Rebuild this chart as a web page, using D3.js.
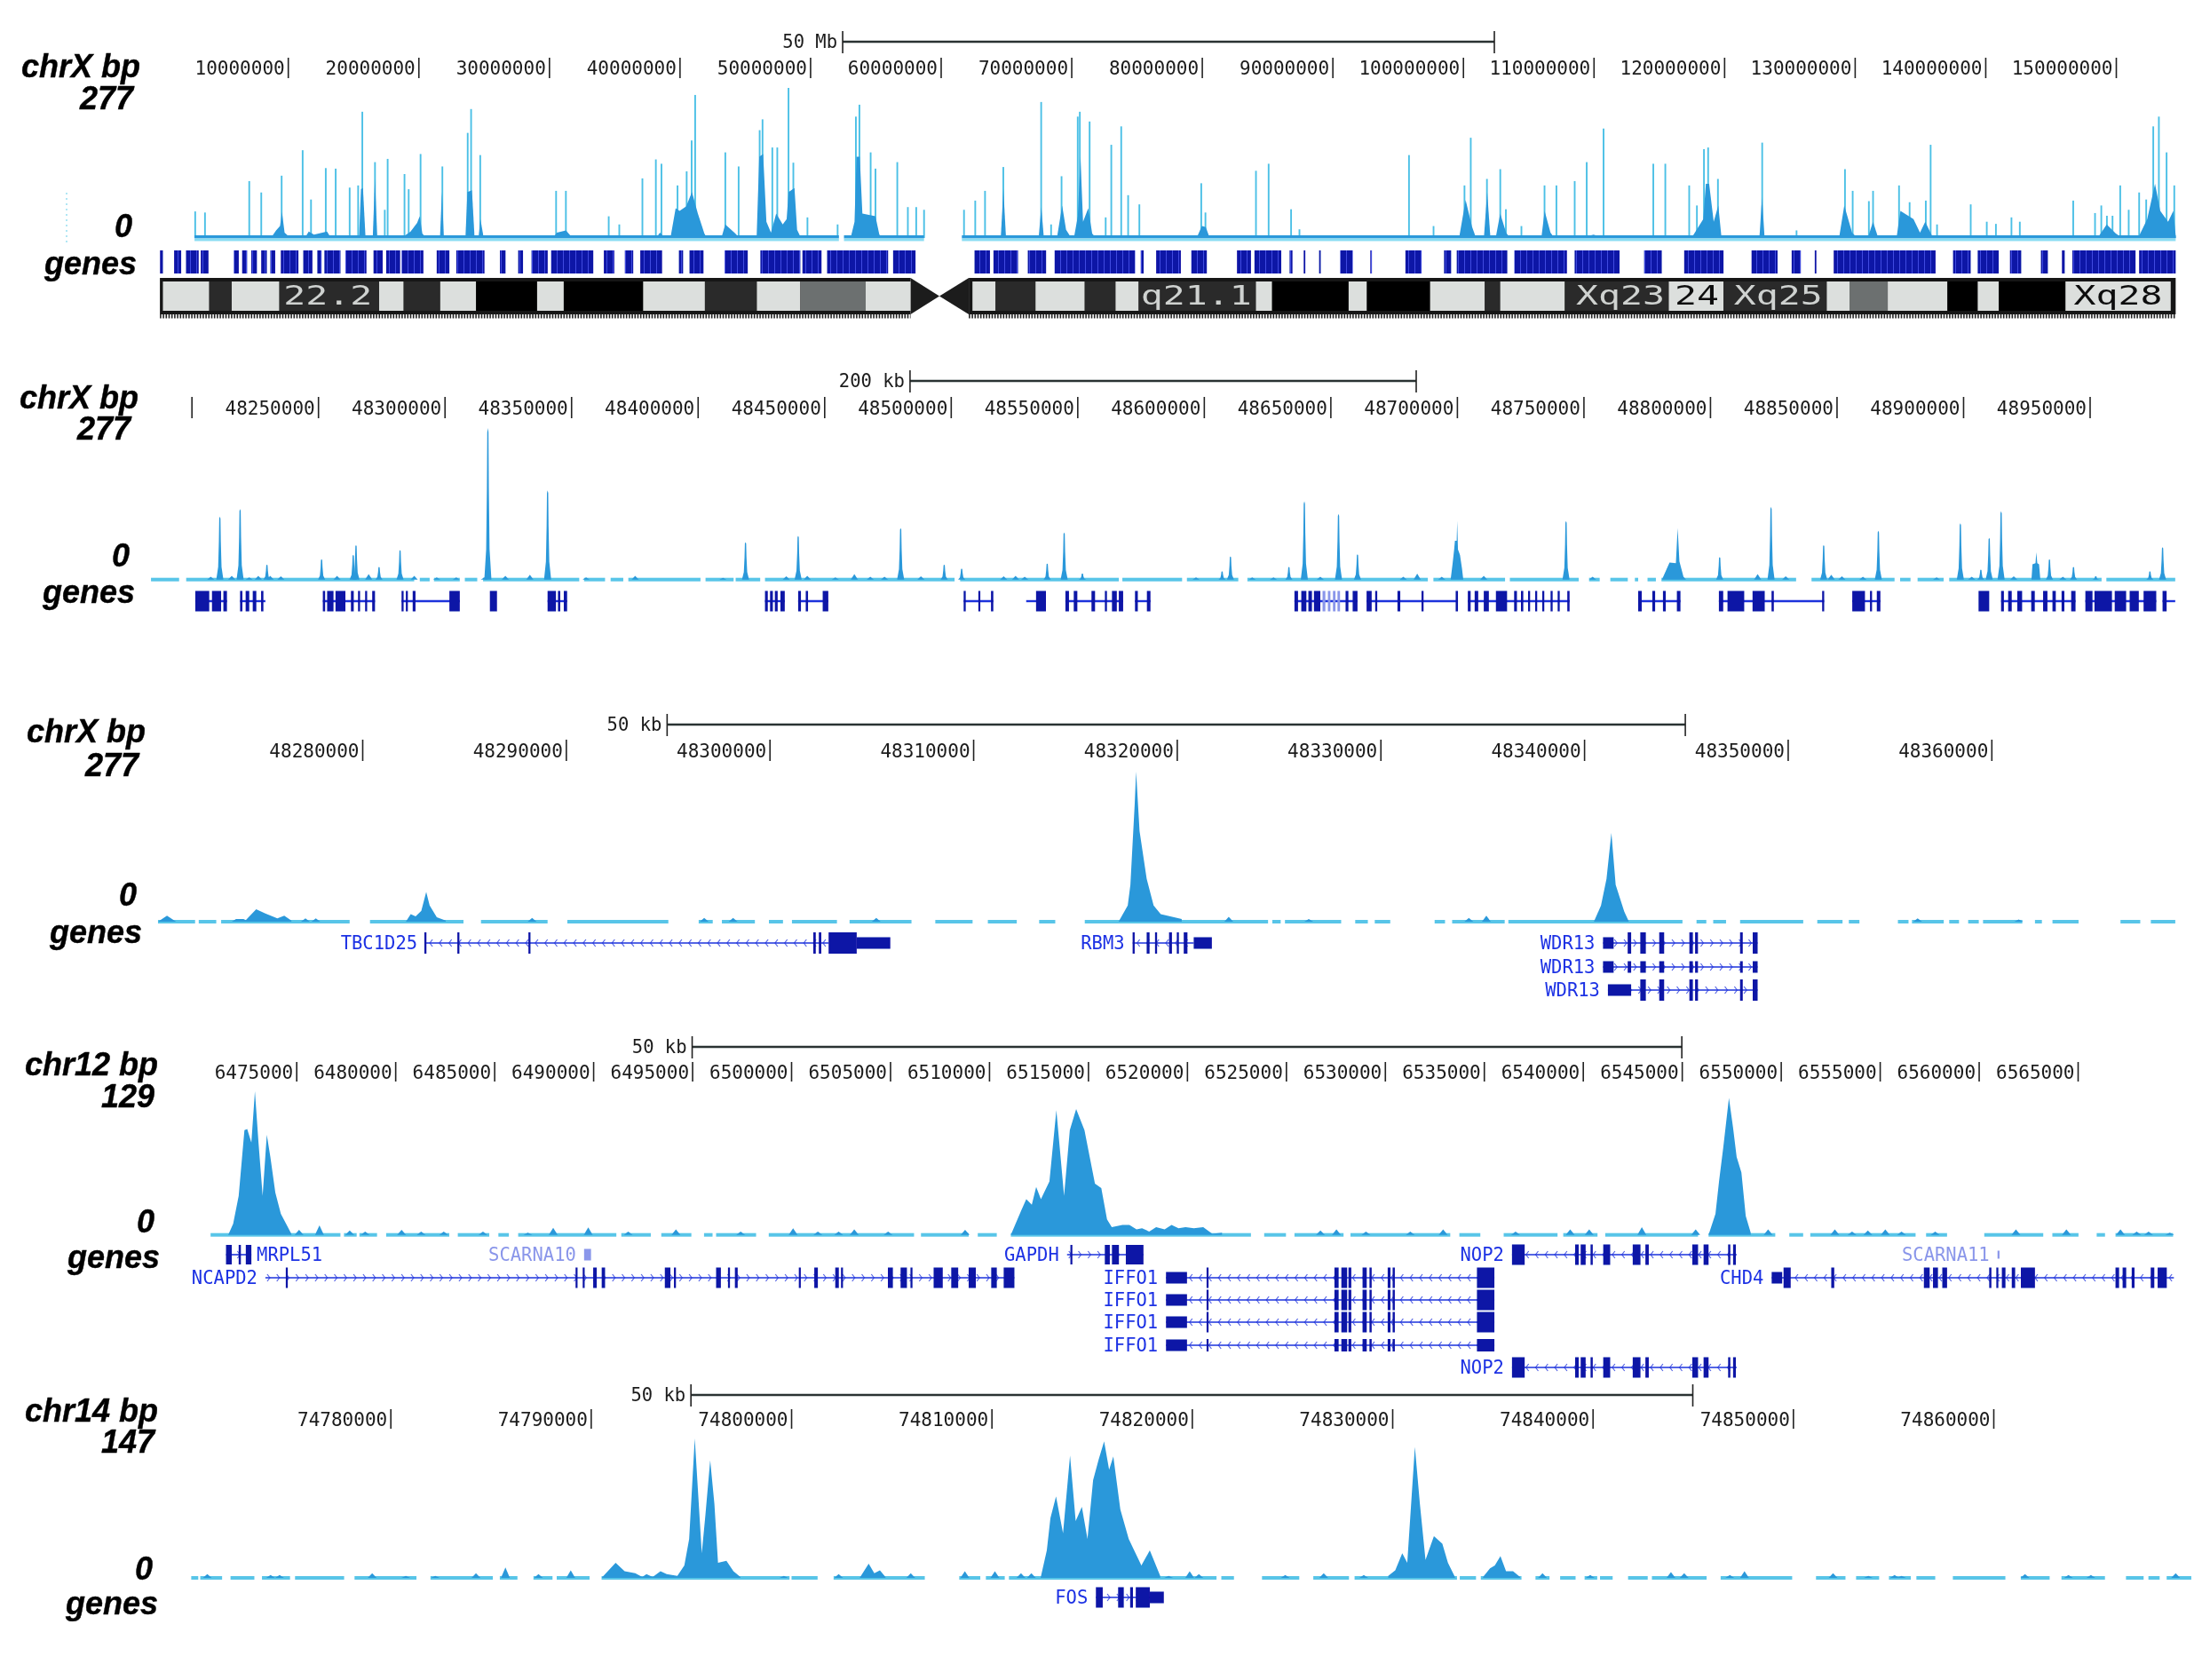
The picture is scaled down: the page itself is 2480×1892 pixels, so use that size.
<!DOCTYPE html>
<html><head><meta charset="utf-8">
<script src="https://cdn.jsdelivr.net/npm/d3@7"></script>
<style>html,body{margin:0;background:#fff}svg{display:block}</style></head><body>
<script>
// ---------- panel 1 : chrX whole chromosome, positions in Mb ----------
const p1Ticks=[10,20,30,40,50,60,70,80,90,100,110,120,130,140,150];
const p1Spikes=[[2.9,49],[3.65,47],[7.04,105],[7.96,84],[9.52,115],[11.13,162],[11.77,71],[12.9,129],[13.66,128],[14.73,93],[15.38,97],[15.7,233],[16.67,140],[17.42,52],[17.64,146],[18.93,118],[19.25,90],[20.16,155],[21.83,132],[23.77,194],[24.03,238],[24.73,153],[30.54,87],[31.29,87],[34.57,40],[35.38,25],[37.15,110],[38.18,145],[38.61,137],[39.84,97],[40.54,123],[40.92,180],[41.19,264],[43.5,158],[44.52,132],[46.13,199],[46.35,219],[47.1,167],[47.48,167],[48.34,277],[48.71,139],[49.79,38],[52.1,25],[53.5,224],[53.77,246],[54.63,158],[55,128],[56.67,140],[57.48,57],[58.12,57],[58.72,52],[61.78,52],[62.64,69],[63.39,87],[64.79,131],[67.69,251],[68.45,25],[69.25,114],[70.49,224],[70.65,233],[71.4,215],[72.63,38],[73.06,172],[73.82,206],[74.35,79],[75.21,62],[79.95,101],[80.27,47],[84.14,124],[85.11,137],[86.83,53],[87.47,16],[95.86,153],[97.74,22],[100.11,97],[100.59,185],[101.83,109],[102.85,127],[103.28,53],[104.47,22],[106.24,97],[107.15,97],[108.55,105],[109.47,140],[110.76,202],[114.57,137],[115.49,137],[117.32,97],[117.91,60],[118.45,164],[118.77,167],[119.52,109],[122.91,176],[125.54,14],[129.25,127],[129.84,87],[131.08,68],[131.4,87],[133.39,97],[134.2,66],[135.44,69],[135.81,172],[136.3,25],[138.88,62],[140.11,30],[140.81,26],[142,38],[142.64,30],[146.73,69],[148.4,46],[148.88,60],[149.31,41],[149.74,41],[150.33,97],[150.98,52],[151.78,84],[152.32,71],[152.86,206],[153.29,224],[153.88,158],[154.47,97]];
const p1Mass=[[[8.7,0],[9.1,14],[9.4,22],[9.55,48],[9.75,10],[10.2,0]],[[11.3,0],[11.6,12],[12,6],[13,12],[13.3,0]],[[15.45,0],[15.6,90],[15.75,92],[15.95,0]],[[16.5,0],[16.67,110],[16.85,0]],[[18.7,0],[19.4,12],[19.9,28],[20.1,40],[20.3,8],[20.6,0]],[[21.65,0],[21.8,85],[21.95,0]],[[23.6,0],[23.75,85],[24.1,88],[24.3,0]],[[24.6,0],[24.75,35],[25,0]],[[30.3,0],[30.6,10],[31.3,14],[31.8,0]],[[38.2,0],[38.5,10],[38.9,0]],[[39.3,0],[39.7,55],[40,50],[40.5,58],[40.95,85],[41.4,45],[41.9,8],[42.1,0]],[[43.2,0],[43.5,25],[44.2,10],[44.6,0]],[[45.9,0],[46.1,150],[46.4,155],[46.65,30],[47,10],[47.4,45],[47.9,25],[48.2,35],[48.35,85],[48.8,92],[49,15],[49.3,0]],[[53.1,0],[53.4,30],[53.55,150],[53.8,150],[54,45],[55,40],[55.3,6],[55.6,0]],[[64.6,0],[64.8,90],[65,0]],[[67.5,0],[67.7,57],[67.9,0]],[[68.9,0],[69.3,60],[69.6,15],[70,0]],[[70.2,0],[70.5,40],[70.7,150],[70.9,30],[71.3,55],[71.6,8],[71.9,0]],[[79.6,0],[80,22],[80.3,20],[80.6,0]],[[99.7,0],[100.2,70],[100.7,20],[101,0]],[[101.6,0],[101.85,85],[102.1,0]],[[102.5,0],[102.85,45],[103.3,10],[103.6,0]],[[106,0],[106.25,50],[106.7,10],[107,0]],[[109,0],[110,6],[110.8,0]],[[117.5,0],[118.4,35],[118.6,100],[118.85,100],[119.2,30],[119.55,60],[119.8,0]],[[122.7,0],[122.9,75],[123.1,0]],[[128.8,0],[129.2,60],[129.8,10],[130.2,0]],[[131,0],[131.4,30],[131.8,0]],[[133.2,0],[133.5,50],[134.5,35],[135,10],[135.4,30],[136,0]],[[148.6,0],[149.3,25],[150,8],[150.5,0]],[[151.7,0],[152.4,35],[153,100],[153.4,50],[154,30],[154.4,50],[154.6,0]]];
const p1Coverage=[[2.85,52.2],[52.59,58.72],[61.62,154.58]];
const p1Genes=[[.21,.43],[1.29,1.83],[2.2,3.17],[3.33,3.92],[5.86,6.24],[6.5,6.88],[7.2,7.63],[7.96,8.39],[8.66,9.03],[9.46,10.81],[11.18,11.88],[12.26,12.58],[12.8,14.03],[14.41,16.02],[16.56,17.26],[17.53,18.6],[18.71,20.38],[21.4,22.37],[22.9,25.06],[26.24,26.67],[27.64,28.01],[28.66,29.9],[30.16,33.39],[34.2,35],[35.81,36.45],[36.99,38.66],[39.95,40.27],[40.76,41.83],[43.45,45.22],[46.19,49.25],[49.41,50.87],[51.3,55.97],[56.35,58.07],[62.59,63.77],[64.04,65.92],[66.67,68.07],[68.72,74.89],[75.32,75.54],[76.5,78.39],[79.19,80.38],[82.69,83.76],[84.03,86.08],[86.72,86.94],[87.8,87.9],[88.98,89.09],[90.59,91.56],[92.9,93.01],[95.59,96.83],[98.55,99.09],[99.52,103.39],[103.93,107.96],[108.55,111.99],[113.87,115.22],[116.94,119.95],[122.1,124.09],[125.17,125.87],[126.94,127.05],[128.39,136.19],[137.53,138.88],[139.42,141.03],[141.89,142.75],[144.26,144.79],[145.87,146.08],[146.67,151.51],[151.78,154.58]];
const ideoBands=[[.43,3.98,"light"],[3.98,5.7,"dark"],[5.7,9.35,"light"],[9.35,16.99,"dark"],[16.99,18.87,"light"],[18.87,21.67,"dark"],[21.67,24.41,"light"],[24.41,29.09,"black"],[29.09,31.13,"light"],[31.13,37.21,"black"],[37.21,41.94,"light"],[41.94,45.92,"dark"],[45.92,49.25,"light"],[49.25,54.25,"gray"],[54.25,57.69,"light"],[62.43,64.2,"light"],[64.2,67.26,"dark"],[67.26,71.03,"light"],[71.03,73.39,"dark"],[73.39,75.16,"light"],[75.16,84.14,"dark"],[84.14,85.38,"light"],[85.38,91.24,"black"],[91.24,92.64,"light"],[92.64,97.48,"black"],[97.48,101.67,"light"],[101.67,102.85,"dark"],[102.85,107.8,"light"],[107.8,115.76,"dark"],[115.76,119.95,"light"],[119.95,127.86,"dark"],[127.86,129.63,"light"],[129.63,132.53,"gray"],[132.53,137.1,"light"],[137.1,139.42,"black"],[139.42,141.03,"light"],[141.03,146.14,"black"],[146.14,154.2,"light"]];
const ideoLabels=[[13.06,"22.2","light"],[79.57,"q21.1","light"],[112.05,"Xq23","light"],[117.91,"24","dark"],[124.15,"Xq25","light"],[150.17,"Xq28","dark"]];
const ideoArms=[[.2,57.69],[62.15,154.58]];
const ideoCentromere=[57.69,59.9,62.15];

// ---------- panel 2 : chrX, positions in kb above 48,000,000 ----------
const p2Ticks=[200,250,300,350,400,450,500,550,600,650,700,750,800,850,900,950];
const p2Spikes=[[211.2,115],[219.2,129],[229.8,27],[251.4,37],[263.9,45],[265,63],[274.1,23],[282.4,54],[317.1,277],[340.7,163],[418.9,68],[439.7,80],[480.2,94],[497.4,27],[504.3,20],[538.1,29],[544.8,86],[552,11],[607.2,15],[610.5,42],[633.6,23],[639.7,143],[653.2,120],[660.7,46],[743.1,107],[803.8,41],[824.1,133],[844.9,63],[866.5,89],[898.9,103],[907,18],[910.3,76],[915,125],[934.1,37],[943.6,23],[952.4,6],[973.8,15],[978.8,59]];
const p2Shapes=[[[697.5,0],[698.3,30],[698.9,55],[699.2,71],[699.9,71],[700.1,107],[700.4,55],[701.2,45],[702,20],[702.5,0]],[[781,0],[784,31],[786.5,30],[787.2,94],[787.9,33],[789.5,5],[790.5,0]],[[927,0],[927.4,28],[928.6,30],[928.9,50],[929.3,30],[930,28],[930.5,0]]];
const p2Bumps=[[207.6,5],[215.9,7],[222.8,4],[226.4,7],[231.1,7],[235.3,6],[257.5,7],[270,10],[288,7],[296.9,4],[304.6,4],[315.7,4],[324,7],[333.7,9],[355.9,4],[375.3,7],[410,3],[435,6],[443.3,7],[454.4,4],[461.9,10],[468.2,5],[473.8,5],[488.2,6],[520.9,6],[525.6,7],[529.2,5],[596.9,4],[619.1,4],[627.5,4],[646,5],[678.8,5],[684.3,11],[694,5],[710.6,7],[753.6,5],[818.8,10],[829.9,6],[847.9,9],[852.1,6],[860.4,5],[889.5,4],[903.4,5],[920,6],[939.4,5]];
const p2Coverage=[[184,195.1],[197.9,288],[290.2,294.1],[295.8,306],[308,312.9],[315.2,353.2],[355.1,363.4],[365.6,370.6],[372.6,401.1],[403.1,414.2],[415,424.7],[426.6,501.5],[503.7,566.4],[567.8,591.4],[593.3,613.6],[617.2,688.5],[690.7,719],[720.9,748.1],[752.2,756.4],[760.6,767.5],[770.3,771.6],[775.3,778.6],[780.8,834],[840.1,872.9],[875.1,879.2],[882,892.3],[894.5,954.7],[956.6,983.8]];
const p2GeneLines=[[201.5,214],[219.2,229.2],[251.9,272.5],[283,306],[340.7,348.4],[426.6,434.4],[439.7,451.6],[505.1,516.8],[529.8,537.6],[545.3,568.1],[572.8,578.9],[635.8,660.7],[664.3,700.4],[704.3,744.5],[771.6,788.3],[803.5,845.1],[856.2,867.3],[915,944.4],[948.3,976.3],[978.8,983.8]];
const p2Exons=[[201.5,207],[208.1,211.7],[212.6,214],[219.2,220.1],[221.4,222.8],[224.2,225.6],[227.5,228.4],[251.9,252.8],[253.6,256.1],[256.9,260.8],[263,264.1],[265.8,266.6],[268.6,269.4],[271.4,272.5],[283,283.8],[284.7,285.2],[287.4,288.5],[301.9,306],[317.9,320.7],[340.7,344],[344.8,345.7],[347.1,348.4],[426.6,427.7],[428.6,429.7],[430.5,431.6],[432.7,434.4],[439.7,440.8],[442.7,443.6],[449.4,451.6],[505.1,505.9],[510.9,511.5],[515.9,516.8],[533.7,537.6],[545.3,546.7],[548.6,550],[555.6,557],[560.9,561.7],[563.7,565.6],[566.4,568.1],[572.8,573.9],[577.5,578.9],[635.8,637.2],[638.5,640.5],[641.3,642.7],[643.5,646],[656,657.1],[658.8,660.7],[664.3,666.3],[667.7,668.5],[676.5,677.6],[686,686.8],[699.5,700.4],[704.3,705.4],[707,708.4],[710.6,712.6],[715.4,719.8],[722.6,723.7],[725.3,726.2],[728.1,728.9],[730.9,731.7],[733.7,734.5],[737,737.8],[739.8,740.6],[743.6,744.5],[771.6,773],[777.2,778.3],[781.4,782.5],[786.9,788.3],[803.5,805.2],[806.9,813.5],[816.8,821.6],[824.3,825.2],[844.3,845.1],[856.2,861.2],[863.2,864],[865.9,867.3],[906.1,910.3],[915,916.1],[917.8,919.2],[921.4,923.3],[926.9,928.3],[931.6,933.3],[935.3,936.6],[938.9,940],[942.7,944.4],[948.3,951.1],[951.9,958.8],[959.9,964.4],[965.8,969.4],[971.3,976.3],[978.8,980.4]];
const p2FaintExons=[[646.9,648],[649,650],[651,652],[652.8,653.8]];

// ---------- panel 3 : chrX, positions in kb above 48,280,000 ----------
const p3Ticks=[0,10,20,30,40,50,60,70,80];
const p3Shapes=[[[-10.03,0],[-9.59,11],[-9.14,0]],[[-6.41,0],[-6.2,5],[-5.83,5],[-5.72,3],[-5.21,23],[-4.76,15],[-4.17,6],[-3.83,11],[-3.48,2]],[[2.14,0],[2.38,14],[2.62,10],[2.9,20],[3.14,55],[3.31,30],[3.66,8],[4.1,2]],[[37.14,0],[37.59,30],[37.72,68],[37.93,216],[38,277],[38.17,167],[38.52,79],[38.86,30],[39.21,14],[40.24,5]],[[60.48,0],[60.83,30],[61.1,79],[61.34,164],[61.55,68],[61.97,19],[62.2,0]]];
const p3Bumps=[[-2.79,6],[-2.28,6],[8.34,7],[16.79,7],[18.21,7],[25.24,7],[42.55,9],[46.48,5],[54.34,7],[55.2,11],[76.38,6],[81.34,4]];
const p3Coverage=[[-10.03,-8.21],[-8.03,-7.17],[-6.93,-.62],[.38,4.97],[5.83,9.1],[10.07,15.03],[16.52,17.21],[17.66,19.28],[19.97,20.66],[21.1,23.31],[23.93,26.97],[28.14,29.97],[30.72,32.14],[33.24,34.03],[35.48,44.48],[44.69,45.1],[45.31,48.07],[48.76,49.38],[49.72,50.48],[52.66,53.17],[53.52,56.1],[56.28,64.83],[65.52,66],[66.34,66.97],[67.66,70.76],[71.45,72.69],[73,73.52],[75.41,75.93],[76.1,77.66],[77.93,78.41],[78.86,79.38],[79.59,81.52],[82.14,82.48],[83,84.28],[86.34,87.31],[87.83,89.03]];
const tbcExons=[[3.05,3.15],[4.67,4.77],[8.16,8.26],[22.15,22.27],[22.42,22.54],[22.9,24.28]];
const tbcUtr=[[24.28,25.93]];
const rbm3Exons=[[37.83,37.93],[38.52,38.66],[38.93,39.03],[39.62,39.76],[40,40.1],[40.34,40.52]];
const rbm3Utr=[[40.83,41.72]];
const wdrExons=[[62.14,62.31],[62.76,63.03],[63.69,63.93],[65.17,65.34],[65.45,65.59],[67.66,67.79],[68.28,68.52]];
const wdrExonsB=[[62.76,63.03],[63.69,63.93],[65.17,65.34],[65.45,65.59],[67.66,67.79],[68.28,68.52]];

// ---------- panel 4 : chr12, positions in kb above 6,475,000 ----------
const p4Ticks=[0,5,10,15,20,25,30,35,40,45,50,55,60,65,70,75,80,85,90];
const p4Shapes=[[[-3.44,0],[-3.19,10],[-2.91,35],[-2.62,94],[-2.48,95],[-2.27,83],[-2.09,129],[-1.91,83],[-1.7,35],[-1.49,90],[-1.31,70],[-1.06,38],[-.78,19],[-.25,1]],[[36.1,0],[36.63,22],[36.88,32],[37.16,27],[37.38,43],[37.62,32],[38.05,48],[38.4,112],[38.79,35],[39.08,94],[39.4,113],[39.82,94],[40.35,46],[40.67,42],[40.96,14],[41.2,7],[41.74,9],[42.09,9],[42.45,5],[42.73,6],[43.09,3],[43.44,7],[43.87,5],[44.22,9],[44.57,6],[44.93,7],[45.35,6],[45.82,7],[46.28,1],[46.77,2]],[[71.35,0],[71.7,19],[71.88,48],[72.09,78],[72.38,123],[72.59,96],[72.77,70],[73.01,56],[73.23,17],[73.48,2]]];
const p4Bumps=[[.14,4.5],[1.17,8.5],[2.7,4],[3.48,3],[5.32,4.5],[6.31,3],[7.45,3],[9.43,3],[11.7,2],[12.98,6.4],[14.75,6.7],[16.77,3],[19.18,5],[22.45,3],[25.1,6],[26.35,3],[27.4,3],[28.19,5],[29.9,3],[33.79,4.5],[51.74,4],[52.55,5],[54.04,3],[56.28,3],[57.94,5],[61.6,3],[64.36,5],[65.32,5],[67.98,7],[70.7,5],[74.36,5],[77.73,5],[78.6,3],[79.4,4],[80.28,5],[81.1,3],[82.8,3],[86.88,5],[89.43,5],[92.16,5],[92.98,3],[93.58,3],[94.65,2]];
const p4Coverage=[[-4.33,2.23],[2.41,3.05],[3.19,4.08],[4.54,7.73],[8.16,9.75],[10.21,10.74],[11.21,16.17],[16.42,17.91],[18.44,19.96],[20.6,21.03],[21.21,23.23],[23.87,31.21],[31.56,33.97],[34.43,35.39],[36.1,48.23],[48.9,50],[50.43,52.91],[53.26,58.3],[58.76,59.82],[61,63.72],[64.01,65.74],[66.13,70.82],[71.35,74.72],[75.43,76.13],[76.49,81.81],[82.34,83.4],[85.28,88.26],[88.72,90.04],[90.96,91.38],[91.91,94.82]];
const mrplExons=[[-3.55,-3.26],[-2.91,-2.8],[-2.55,-2.27]];
const scarna10Exons=[[14.54,14.89]];
const gapdhExons=[[39.11,39.2],[40.85,41.1],[41.21,41.56],[41.91,42.8]];
const nop2Exons=[[61.42,62.06],[64.61,64.79],[64.89,65.14],[65.39,65.5],[66.03,66.38],[67.52,67.91],[68.16,68.33],[70.53,70.82],[71.1,71.35],[72.34,72.45],[72.59,72.73]];
const ncapExons=[[-.53,-.43],[14.11,14.18],[14.47,14.54],[15,15.18],[15.43,15.6],[18.62,18.9],[19.08,19.18],[21.21,21.45],[21.81,21.91],[22.16,22.3],[25.39,25.46],[26.17,26.35],[27.23,27.41],[27.52,27.62],[29.89,30.14],[30.53,30.85],[31.03,31.13],[32.2,32.66],[33.09,33.44],[33.97,34.33],[35.11,35.39],[35.74,36.28]];
const iffoExons=[[45.99,46.06],[52.45,52.66],[52.8,53.09],[53.16,53.3],[53.87,54.08],[54.22,54.33],[55.14,55.28],[55.39,55.5],[59.65,60.53]];
const iffoUtr=[[43.94,45]];
const chd4Exons=[[75.14,75.5],[77.55,77.7],[82.23,82.52],[82.69,82.94],[83.16,83.4],[85.53,85.64],[85.89,85.99],[86.17,86.35],[86.67,86.84],[87.13,87.84],[91.91,92.09],[92.27,92.45],[92.73,92.87],[93.69,93.87],[94.04,94.5]];
const chd4Utr=[[74.54,75.07]];
const scarna11Exons=[[85.95,86.02]];

// ---------- panel 5 : chr14, positions in kb above 74,780,000 ----------
const p5Ticks=[0,10,20,30,40,50,60,70,80];
const p5Shapes=[[[10.54,0],[11.24,16],[11.69,7],[12.22,5],[12.57,1],[12.78,4],[13.09,1],[13.48,7],[13.79,4],[14.32,2],[14.67,13],[14.91,41],[15.19,147],[15.37,85],[15.54,26],[15.72,66],[15.96,124],[16.17,78],[16.35,16],[16.77,18],[17.12,7],[17.47,1]],[[23.42,0],[23.87,15],[24.15,5],[24.43,8],[24.71,1]],[[32.45,0],[32.76,29],[32.94,63],[33.22,86],[33.57,47],[33.92,129],[34.2,60],[34.51,75],[34.79,41],[35.07,103],[35.35,125],[35.62,144],[35.87,114],[36.08,128],[36.43,72],[36.85,41],[37.48,13],[37.9,29],[38.42,2]],[[49.8,2],[50.15,8],[50.5,26],[50.75,16],[51.13,138],[51.38,78],[51.66,19],[52.08,44],[52.5,36],[52.78,16],[53.13,1]],[[54.53,1],[54.88,10],[55.12,13],[55.4,23],[55.68,7],[56.03,7],[56.38,1]]];
const p5Bumps=[[-9.14,4],[-5.98,3],[-5.53,3],[-.91,5],[.77,2],[2.24,2],[4.27,5],[5.74,11],[7.39,4],[9,8],[19.64,2],[22.37,4],[25.97,5],[28.67,7],[30.17,7],[31.47,5],[31.99,5],[38.84,2],[39.89,7],[40.35,4],[44.66,3],[46.58,5],[48.58,3],[57.5,5],[59.88,3],[63.91,6],[64.57,5],[66.85,3],[67.58,7],[72,5],[73.76,2],[75.07,3],[75.42,2],[81.58,4],[83.75,3],[84.87,3],[89.1,5]];
const p5Coverage=[[-9.94,-9.59],[-9.49,-8.4],[-7.98,-6.79],[-6.41,-5.01],[-4.76,-2.31],[-1.79,1.3],[2,5.11],[5.46,6.34],[7.14,8.09],[8.3,9.94],[10.54,19.92],[20.02,21.32],[22.12,26.67],[28.39,29.44],[29.72,30.66],[30.87,41.23],[41.47,42.1],[43.5,45.36],[46.06,47.84],[48.12,53.23],[53.37,54.18],[54.42,56.45],[57.15,57.85],[58.38,59.15],[59.6,60.23],[60.37,61],[61.77,62.75],[62.96,65.69],[66.39,69.96],[71.15,72.62],[73.15,74.3],[74.79,75.88],[76.16,77.1],[77.98,80.6],[81.37,82.81],[83.4,85.57],[86.62,87.5],[87.74,88.3],[88.65,89.88]];
const fosExons=[[35.21,35.55],[36.32,36.6],[36.92,37.06],[37.2,37.9]];
const fosUtr=[[37.9,38.6]];

const W=2480,H=1892;
const DARK="#2a98da",LIGHT="#58c5e8",NAVY="#0a12a6",LINE="#1e32dc",LABEL="#1c30e4",FAINT="#8a96ea";
const MONO="'DejaVu Sans Mono',monospace";
const svg=d3.select("body").append("svg").attr("width",W).attr("height",H).attr("viewBox",`0 0 ${W} ${H}`);
const defs=svg.append("defs");
defs.append("filter").attr("id","soft").attr("x","-1%").attr("y","-1%").attr("width","102%").attr("height","102%")
  .append("feGaussianBlur").attr("stdDeviation",0.6);
const stripe=defs.append("pattern").attr("id","geneStripes").attr("patternUnits","userSpaceOnUse").attr("width",7).attr("height",30);
stripe.append("rect").attr("width",7).attr("height",30).attr("fill",NAVY);
stripe.append("rect").attr("x",4).attr("width",1).attr("height",30).attr("fill","#3f4ce0");
const root=svg.append("g").attr("filter","url(#soft)");
svg.insert("rect","g").attr("width",W).attr("height",H).attr("fill","#fff");

function side(txt,right,cy){
  root.append("text").text(txt).attr("x",right).attr("y",cy).attr("text-anchor","end")
    .attr("dominant-baseline","central")
    .attr("font-family","'Liberation Sans',Arial,sans-serif").attr("font-style","italic").attr("font-weight","bold")
    .attr("font-size",36).attr("fill","#000").attr("stroke","#000").attr("stroke-width",0.4);
}
function ruler(x,ticks,unit,base,o){
  const full=ticks.map(t=>base+t*unit);
  const axis=d3.axisBottom(x).tickValues(full).tickSize(o.h).tickFormat(d=>o.hide&&o.hide.includes(d)?"":d3.format("d")(d));
  const g=root.append("g").attr("transform",`translate(0,${o.top})`).call(axis);
  g.select(".domain").remove();
  g.selectAll(".tick line").attr("stroke","#222").attr("stroke-width",1.6);
  g.selectAll(".tick text").attr("text-anchor","end").attr("x",-4).attr("y",o.h/2).attr("dy","0.36em")
    .attr("font-family",MONO).attr("font-size",21).attr("fill","#1a1a1a");
  const [a,b]=o.bar.map(v=>x(base+v*unit));
  const s=root.append("g");
  s.append("line").attr("x1",a).attr("x2",b).attr("y1",o.barY).attr("y2",o.barY).attr("stroke","#2b3330").attr("stroke-width",2.6);
  [a,b].forEach(v=>s.append("line").attr("x1",v).attr("x2",v).attr("y1",o.barY-12).attr("y2",o.barY+13).attr("stroke","#222").attr("stroke-width",1.6));
  s.append("text").text(o.barLabel).attr("x",a-6).attr("y",o.barY).attr("dy","0.36em").attr("text-anchor","end")
    .attr("font-family",MONO).attr("font-size",20.5).attr("fill","#1a1a1a");
}
function signal(x,y,base,unit,o){
  const X=v=>x(base+v*unit);
  const band=root.append("g");
  band.selectAll("rect").data(o.coverage).join("rect")
    .attr("x",d=>X(d[0])).attr("width",d=>X(d[1])-X(d[0])).attr("y",y(0)-2).attr("height",o.bandH||4).attr("fill",LIGHT);
  const area=d3.area().x(d=>X(d[0])).y0(y(0)).y1(d=>y(d[1]));
  const g=root.append("g").attr("fill",DARK);
  (o.spikes||[]).forEach(d=>{
    const c=X(d[0]);
    g.append("path").attr("d",`M${c-4},${y(0)}L${c-1.9},${y(d[1]*0.2)}L${c-1.1},${y(d[1]*0.6)}L${c-.7},${y(d[1]*0.97)}L${c},${y(d[1])}L${c+.7},${y(d[1]*0.97)}L${c+1.1},${y(d[1]*0.6)}L${c+1.9},${y(d[1]*0.2)}L${c+4},${y(0)}Z`);
  });
  (o.shapes||[]).forEach(s=>g.append("path").attr("d",area(s)));
  (o.bumps||[]).forEach(d=>{
    const c=X(d[0]);
    g.append("path").attr("d",`M${c-o.bumpW},${y(0)}L${c},${y(d[1])}L${c+o.bumpW},${y(0)}Z`);
  });
}
function gene(x,base,unit,cy,o){
  const X=v=>x(base+v*unit);
  const g=root.append("g");
  const h=o.h||24,uh=o.uh||13,color=o.faint?FAINT:NAVY;
  if(o.line){
    const [a,b]=o.line.map(X);
    g.append("line").attr("x1",a).attr("x2",b).attr("y1",cy).attr("y2",cy).attr("stroke",o.faint?FAINT:LINE).attr("stroke-width",o.plain?2.4:1.6);
    if(!o.plain){
      const dir=o.dir||-1;
      const n=d3.range(a+5,b,10.8);
      g.selectAll("path").data(n).join("path")
        .attr("d",d=>`M${d-dir*3},${cy-4}L${d},${cy}L${d-dir*3},${cy+4}`)
        .attr("fill","none").attr("stroke",LINE).attr("stroke-opacity",0.75).attr("stroke-width",1.2);
    }
  }
  g.selectAll("rect.e").data(o.exons||[]).join("rect").attr("class","e")
    .attr("x",d=>X(d[0])).attr("width",d=>Math.max(2.2,X(d[1])-X(d[0]))).attr("y",cy-h/2).attr("height",h).attr("fill",color);
  g.selectAll("rect.u").data(o.utr||[]).join("rect").attr("class","u")
    .attr("x",d=>X(d[0])).attr("width",d=>X(d[1])-X(d[0])).attr("y",cy-uh/2).attr("height",uh).attr("fill",color);
  if(o.name){
    const after=o.after;
    const lx=after?X(o.anchor)+6:X(o.anchor)-9;
    g.append("text").text(o.name).attr("x",lx).attr("y",cy).attr("dy","0.36em").attr("text-anchor",after?"start":"end")
      .attr("font-family",MONO).attr("font-size",20.5).attr("fill",o.faint?FAINT:LABEL);
  }
}

// === PANEL 1 ===
{
  const x=d3.scaleLinear().domain([10e6,150e6]).range([324.2,2383]);
  const y=d3.scaleLinear().domain([0,277]).range([268,99]);
  const M=1e6;
  side("chrX bp",158,74);side("277",150,110);side("0",149,254);side("genes",154,296);
  ruler(x,p1Ticks,M,0,{top:65,h:23,bar:[52.49,102.4],barY:47,barLabel:"50 Mb"});
  const X=v=>x(v*M);
  root.append("line").attr("x1",75).attr("x2",75).attr("y1",217).attr("y2",273).attr("stroke","#8fdcf0").attr("stroke-width",1.4).attr("stroke-dasharray","2 4");
  const sg=root.append("g");
  sg.selectAll("rect").data(p1Spikes).join("rect").attr("x",d=>X(d[0])-.9).attr("width",1.9)
    .attr("y",d=>y(d[1])).attr("height",d=>y(0)-y(d[1])).attr("fill","#4cc0e6");
  const area=d3.area().x(d=>X(d[0])).y0(y(0)).y1(d=>y(d[1]));
  p1Mass.forEach(s=>root.append("path").attr("d",area(s)).attr("fill",DARK));
  root.append("g").selectAll("rect").data(p1Coverage).join("rect").attr("x",d=>X(d[0])).attr("width",d=>X(d[1])-X(d[0]))
    .attr("y",y(0)-3).attr("height",3.5).attr("fill",DARK);
  root.append("g").selectAll("rect").data(p1Coverage).join("rect").attr("x",d=>X(d[0])).attr("width",d=>X(d[1])-X(d[0]))
    .attr("y",y(0)+.5).attr("height",3).attr("fill","#8adcf2");
  root.append("g").selectAll("rect").data(p1Genes).join("rect").attr("x",d=>X(d[0])).attr("width",d=>Math.max(1.8,X(d[1])-X(d[0])))
    .attr("y",282).attr("height",26).attr("fill","url(#geneStripes)");
  // ideogram
  const col={light:"#dcdfdd",dark:"#2a2a2a",black:"#060606",gray:"#6c706f"};
  const ig=root.append("g");
  ideoArms.forEach(a=>{
    ig.append("rect").attr("x",X(a[0])).attr("width",X(a[1])-X(a[0])).attr("y",313).attr("height",41).attr("fill","#151515");
    ig.append("line").attr("x1",X(a[0])).attr("x2",X(a[1])).attr("y1",356).attr("y2",356).attr("stroke","#222").attr("stroke-width",5).attr("stroke-dasharray","1.6 1.6");
  });
  const [c0,c1,c2]=ideoCentromere.map(X);
  ig.append("path").attr("d",`M${c0},313L${c1},333.5L${c2},313L${c2},354L${c1},333.5L${c0},354Z`).attr("fill","#1c1c1c");
  ig.selectAll("rect.b").data(ideoBands).join("rect").attr("class","b").attr("x",d=>X(d[0])).attr("width",d=>X(d[1])-X(d[0]))
    .attr("y",317).attr("height",33).attr("fill",d=>col[d[2]]);
  ig.selectAll("text").data(ideoLabels).join("text").text(d=>d[1]).attr("x",d=>X(d[0])).attr("y",332).attr("dy","0.37em")
    .attr("text-anchor","middle").attr("font-family",MONO).attr("font-size",30)
    .attr("textLength",d=>d[1].length*25).attr("lengthAdjust","spacingAndGlyphs")
    .attr("fill",d=>d[2]==="light"?"#cfd2d0":"#111");
}
// === PANEL 2 ===
{
  const x=d3.scaleLinear().domain([48250000,48950000]).range([358.2,2353.5]);
  const y=d3.scaleLinear().domain([0,277]).range([652.7,482]);
  side("chrX bp",156,447);side("277",147,482);side("0",146,625);side("genes",152,666);
  ruler(x,p2Ticks,1000,48000000,{top:447,h:24,bar:[483.9,683.9],barY:429,barLabel:"200 kb",hide:[48200000]});
  signal(x,y,48000000,1000,{coverage:p2Coverage,spikes:p2Spikes,shapes:p2Shapes,bumps:p2Bumps,bumpW:4});
  p2GeneLines.forEach(l=>gene(x,48000000,1000,677,{line:l,plain:true}));
  gene(x,48000000,1000,677,{exons:p2Exons,h:23});
  gene(x,48000000,1000,677,{exons:p2FaintExons,h:23,faint:true});
}
// === PANEL 3 ===
{
  const x=d3.scaleLinear().domain([48280000,48360000]).range([408,2242.8]);
  const y=d3.scaleLinear().domain([0,277]).range([1038,869]);
  const B=48280000,U=1000;
  side("chrX bp",164,823);side("277",156,861);side("0",154,1007);side("genes",160,1049);
  ruler(x,p3Ticks,U,B,{top:833,h:24,bar:[14.97,64.97],barY:816,barLabel:"50 kb"});
  signal(x,y,B,U,{coverage:p3Coverage,shapes:p3Shapes,bumps:p3Bumps,bumpW:5});
  gene(x,B,U,1062,{name:"TBC1D25",anchor:3.1,line:[3.1,22.9],exons:tbcExons,utr:tbcUtr});
  gene(x,B,U,1062,{name:"RBM3",anchor:37.83,line:[37.83,40.83],exons:rbm3Exons,utr:rbm3Utr});
  gene(x,B,U,1062,{name:"WDR13",anchor:60.93,line:[60.93,68.52],exons:wdrExons,utr:[[60.93,61.45]],dir:1});
  gene(x,B,U,1089,{name:"WDR13",anchor:60.93,line:[60.93,68.52],exons:wdrExons,utr:[[60.93,61.45]],h:13,dir:1});
  gene(x,B,U,1115,{name:"WDR13",anchor:61.17,line:[61.17,68.52],exons:wdrExonsB,utr:[[61.17,62.31]],dir:1});
}
// === PANEL 4 ===
{
  const x=d3.scaleLinear().domain([6475000,6565000]).range([333.7,2340]);
  const y=d3.scaleLinear().domain([0,129]).range([1390.7,1229]);
  const B=6475000,U=1000;
  side("chr12 bp",178,1198);side("129",174,1234);side("0",174,1375);side("genes",180,1415);
  ruler(x,p4Ticks,U,B,{top:1196,h:22,bar:[20,70],barY:1179,barLabel:"50 kb"});
  signal(x,y,B,U,{coverage:p4Coverage,shapes:p4Shapes,bumps:p4Bumps,bumpW:5});
  const R=[1413,1439,1464,1489,1515,1540];
  gene(x,B,U,R[0],{name:"MRPL51",anchor:-2.27,after:true,line:[-3.55,-2.27],exons:mrplExons,h:22,dir:1});
  gene(x,B,U,R[0],{name:"SCARNA10",anchor:14.54,exons:scarna10Exons,h:13,faint:true});
  gene(x,B,U,R[0],{name:"GAPDH",anchor:38.94,line:[38.94,42.8],exons:gapdhExons,h:22,dir:1});
  gene(x,B,U,R[0],{name:"NOP2",anchor:61.42,line:[61.42,72.77],exons:nop2Exons,h:23});
  gene(x,B,U,R[1],{name:"NCAPD2",anchor:-1.56,line:[-1.56,36.28],exons:ncapExons,h:23,dir:1});
  gene(x,B,U,R[1],{name:"IFFO1",anchor:43.94,line:[43.94,60.53],exons:iffoExons,utr:iffoUtr,h:23});
  gene(x,B,U,R[1],{name:"CHD4",anchor:74.54,line:[74.54,94.86],exons:chd4Exons,utr:chd4Utr,h:23});
  gene(x,B,U,R[0],{name:"SCARNA11",anchor:85.95,exons:scarna11Exons,h:9,faint:true});
  gene(x,B,U,R[2],{name:"IFFO1",anchor:43.94,line:[43.94,60.53],exons:iffoExons,utr:iffoUtr,h:23});
  gene(x,B,U,R[3],{name:"IFFO1",anchor:43.94,line:[43.94,60.53],exons:iffoExons,utr:iffoUtr,h:23});
  gene(x,B,U,R[4],{name:"IFFO1",anchor:43.94,line:[43.94,60.53],exons:iffoExons,utr:iffoUtr,h:14});
  gene(x,B,U,R[5],{name:"NOP2",anchor:61.42,line:[61.42,72.77],exons:nop2Exons,h:23});
}
// === PANEL 5 ===
{
  const x=d3.scaleLinear().domain([74780000,74860000]).range([439.7,2245]);
  const y=d3.scaleLinear().domain([0,147]).range([1777,1620]);
  const B=74780000,U=1000;
  side("chr14 bp",178,1588);side("147",174,1623);side("0",172,1766);side("genes",178,1805);
  ruler(x,p5Ticks,U,B,{top:1587,h:22,bar:[15,65],barY:1571,barLabel:"50 kb"});
  signal(x,y,B,U,{coverage:p5Coverage,shapes:p5Shapes,bumps:p5Bumps,bumpW:5});
  gene(x,B,U,1799,{name:"FOS",anchor:35.21,line:[35.21,37.9],exons:fosExons,utr:fosUtr,h:23,dir:1});
}
</script></body></html>
